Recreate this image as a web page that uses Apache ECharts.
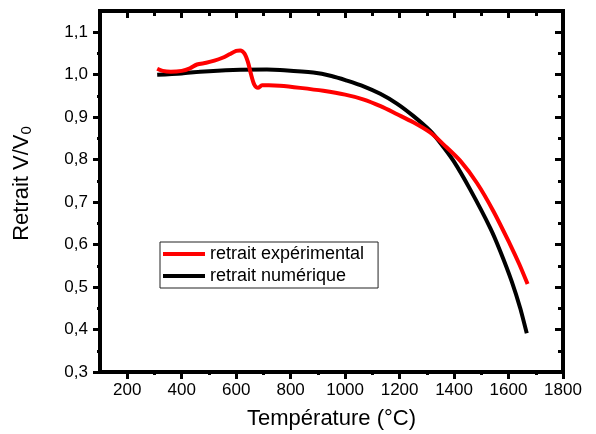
<!DOCTYPE html>
<html>
<head>
<meta charset="utf-8">
<script src="https://cdn.jsdelivr.net/npm/echarts@6/dist/echarts.min.js"></script>
<style>
  html, body { margin: 0; padding: 0; background: #fff; }
  #chart { width: 596px; height: 434px; }
</style>
</head>
<body>
<div id="chart"></div>
<script>
// retrait expérimental (red)
const expTemp = [310, 330, 360, 400, 430, 456, 490, 520, 550, 575, 600, 615, 630, 643, 655, 667, 680, 695, 720, 760, 835, 920, 1000, 1066, 1130, 1191, 1250, 1312, 1361, 1423, 1484, 1545, 1606, 1640, 1670];
const expVal = [1.014, 1.009, 1.007, 1.009, 1.015, 1.024, 1.028, 1.033, 1.040, 1.048, 1.056, 1.057, 1.050, 1.030, 1.000, 0.976, 0.969, 0.975, 0.975, 0.974, 0.969, 0.962, 0.953, 0.942, 0.926, 0.907, 0.888, 0.864, 0.836, 0.797, 0.745, 0.678, 0.600, 0.553, 0.507];

// retrait numérique (black)
const numTemp = [310, 400, 467, 589, 713, 761, 883, 950, 1007, 1070, 1129, 1190, 1250, 1312, 1349, 1398, 1459, 1533, 1570, 1612, 1643, 1667];
const numVal = [1.000, 1.003, 1.007, 1.011, 1.012, 1.011, 1.005, 0.997, 0.986, 0.972, 0.955, 0.932, 0.903, 0.868, 0.840, 0.797, 0.730, 0.639, 0.584, 0.513, 0.450, 0.391];

const xMajorTicks = [200, 400, 600, 800, 1000, 1200, 1400, 1600, 1800];
const xMinorTicks = [300, 500, 700, 900, 1100, 1300, 1500, 1700];
const yMajorTicks = [0.3, 0.4, 0.5, 0.6, 0.7, 0.8, 0.9, 1.0, 1.1];
const yMinorTicks = [0.35, 0.45, 0.55, 0.65, 0.75, 0.85, 0.95, 1.05];
const yTickLabels = ['0,3', '0,4', '0,5', '0,6', '0,7', '0,8', '0,9', '1,0', '1,1'];

const font = 'Liberation Sans, Arial, sans-serif';
const black = '#000';

function xAxis(position, ticks, len, inside) {
  return {
    type: 'value', min: 100, max: 1800, position,
    axisLine: { show: false, onZero: false },
    axisTick: { show: true, inside, length: len, customValues: ticks, lineStyle: { color: black, width: 3 } },
    axisLabel: { show: false },
    splitLine: { show: false }
  };
}
function yAxis(position, ticks, len, inside) {
  return {
    type: 'value', min: 0.3, max: 1.15, position,
    axisLine: { show: false, onZero: false },
    axisTick: { show: true, inside, length: len, customValues: ticks, lineStyle: { color: black, width: 3 } },
    axisLabel: { show: false },
    splitLine: { show: false }
  };
}

const bottomX = xAxis('bottom', xMajorTicks, 7, false);
bottomX.axisLabel = {
  show: true, customValues: xMajorTicks, fontFamily: font, fontSize: 17, color: black, margin: 10,
  formatter: (v) => String(Math.round(v))
};
bottomX.name = 'Température (°C)';
bottomX.nameLocation = 'middle';
bottomX.nameGap = 36;
bottomX.nameMoveOverlap = false;
bottomX.nameTextStyle = { fontFamily: font, fontSize: 22, color: black };

const leftY = yAxis('left', yMajorTicks, 7, false);
leftY.axisLabel = {
  show: true, customValues: yMajorTicks, fontFamily: font, fontSize: 17, color: black, margin: 12,
  formatter: (v) => {
    const i = yMajorTicks.findIndex((t) => Math.abs(t - v) < 1e-6);
    return i >= 0 ? yTickLabels[i] : '';
  }
};
leftY.name = '{a|Retrait V/V}{b|0}';
leftY.nameLocation = 'middle';
leftY.nameGap = 66;
leftY.nameMoveOverlap = false;
leftY.nameTextStyle = {
  fontFamily: font, fontSize: 22, color: black, padding: [0, 0, 0, 16],
  rich: {
    a: { fontFamily: font, fontSize: 22, color: black },
    b: { fontFamily: font, fontSize: 15, color: black, padding: [10, 0, 0, 0] }
  }
};

const chart = echarts.init(document.getElementById('chart'));
chart.setOption({
  backgroundColor: '#fff',
  animation: false,
  grid: {
    left: 100, right: 33, top: 11, bottom: 62, outerBoundsMode: 'none',
    show: true, borderColor: black, borderWidth: 4, backgroundColor: 'transparent'
  },
  legend: {
    orient: 'vertical', left: 160, top: 242,
    padding: [3, 14, 3, 3], itemGap: 4,
    itemWidth: 42, itemHeight: 4, icon: 'rect',
    borderColor: '#222', borderWidth: 1, backgroundColor: '#fff',
    textStyle: { fontFamily: font, fontSize: 18, color: black, lineHeight: 17 },
    data: ['retrait expérimental', 'retrait numérique']
  },
  xAxis: [
    bottomX,
    xAxis('bottom', xMinorTicks, 3, false),
    xAxis('top', xMajorTicks, 7, true),
    xAxis('top', xMinorTicks, 5, true)
  ],
  yAxis: [
    leftY,
    yAxis('left', yMinorTicks, 3, false),
    yAxis('right', yMajorTicks, 8, true),
    yAxis('right', yMinorTicks, 5, true)
  ],
  series: [
    {
      name: 'retrait expérimental', type: 'line', xAxisIndex: 0, yAxisIndex: 0,
      data: expTemp.map((t, i) => [t, expVal[i]]),
      showSymbol: false, smooth: 0.3,
      lineStyle: { color: '#ff0000', width: 4 }, itemStyle: { color: '#ff0000' }, z: 3
    },
    {
      name: 'retrait numérique', type: 'line', xAxisIndex: 0, yAxisIndex: 0,
      data: numTemp.map((t, i) => [t, numVal[i]]),
      showSymbol: false, smooth: 0.3,
      lineStyle: { color: black, width: 4 }, itemStyle: { color: black }, z: 2
    }
  ]
});
</script>
</body>
</html>
